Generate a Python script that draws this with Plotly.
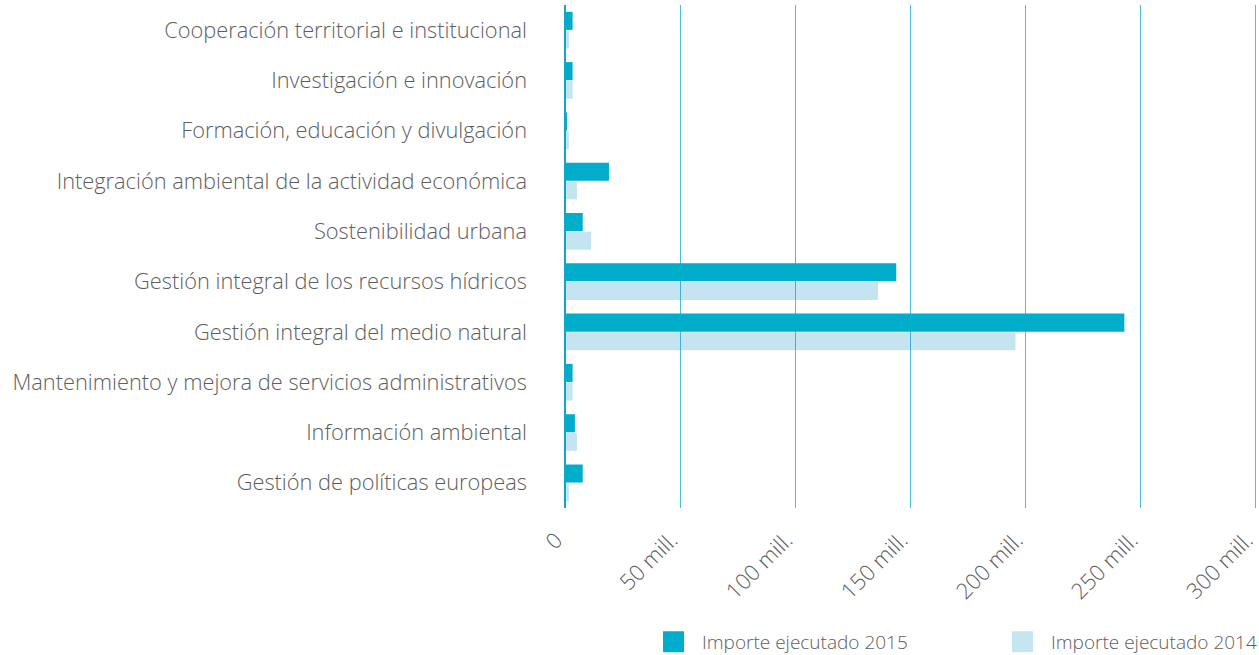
import plotly.graph_objects as go

categories = [
    "Cooperación territorial e institucional",
    "Investigación e innovación",
    "Formación, educación y divulgación",
    "Integración ambiental de la actividad económica",
    "Sostenibilidad urbana",
    "Gestión integral de los recursos hídricos",
    "Gestión integral del medio natural",
    "Mantenimiento y mejora de servicios administrativos",
    "Información ambiental",
    "Gestión de políticas europeas",
]
importe_2015 = [3.3e6, 3.3e6, 0.7e6, 19.1e6, 7.7e6, 143.9e6, 243.0e6, 3.3e6, 4.3e6, 7.7e6]
importe_2014 = [1.7e6, 3.3e6, 1.7e6, 5.2e6, 11.3e6, 136.0e6, 195.7e6, 3.3e6, 5.2e6, 1.7e6]
tick_vals = [0, 50e6, 100e6, 150e6, 200e6, 250e6, 300e6]
tick_text = ["0", "50 mill.", "100 mill.", "150 mill.", "200 mill.", "250 mill.", "300 mill."]
series_names = ["Importe ejecutado 2015", "Importe ejecutado 2014"]

DARK = "#00adca"
LIGHT = "rgba(0,141,189,0.23)"
LIGHT_LEG = "#c5e5f0"
FONT = "Open Sans"
TXT = "#5e5e5e"

fig = go.Figure()
fig.add_trace(go.Bar(y=categories, x=importe_2015, orientation="h", name=series_names[0],
                     marker=dict(color=DARK, line=dict(width=0)), showlegend=False))
fig.add_trace(go.Bar(y=categories, x=importe_2014, orientation="h", name=series_names[1],
                     marker=dict(color=LIGHT, line=dict(width=0)), showlegend=False))
# legend proxies
for nm, col, lg in zip(series_names, [DARK, LIGHT_LEG], ["legend", "legend2"]):
    fig.add_trace(go.Scatter(x=[None], y=[None], mode="markers", name=nm, legend=lg,
                             marker=dict(symbol="square", size=16, color=col,
                                         line=dict(color=col, width=5))))

leg_common = dict(orientation="h", xanchor="left", y=-0.2664, yanchor="middle", itemwidth=47,
                  font=dict(size=19, color=TXT, family=FONT, weight=300),
                  bgcolor="rgba(0,0,0,0)")
fig.update_layout(
    width=1259, height=655,
    margin=dict(l=565, r=0, t=5, b=147, autoexpand=False),
    paper_bgcolor="white", plot_bgcolor="white",
    barmode="group", bargap=0.26, bargroupgap=0.03,
    font=dict(family=FONT, color=TXT, weight=300),
    xaxis=dict(range=[0, 301.5e6], tickvals=tick_vals, ticktext=tick_text, tickangle=-45,
               showgrid=True, gridcolor="#4cc0da", gridwidth=1,
               zeroline=True, zerolinecolor="#16a6c4", zerolinewidth=2,
               showline=False, ticks="", automargin=False, ticklabeloverflow="allow",
               ticklabelstandoff=14, ticklabelshift=-9,
               tickfont=dict(size=22, color=TXT, family=FONT, weight=300)),
    yaxis=dict(autorange="reversed", showgrid=False, ticks="", showline=False, automargin=False,
               tickfont=dict(size=21.8, color=TXT, family=FONT, weight=300), ticklabelstandoff=37),
    legend=dict(x=0.1153, **leg_common),
    legend2=dict(x=0.6182, **leg_common),
)
fig.write_html("out.html", config={"displayModeBar": False},
               post_script="document.body.style.margin='0';window.dispatchEvent(new Event('resize'));")
